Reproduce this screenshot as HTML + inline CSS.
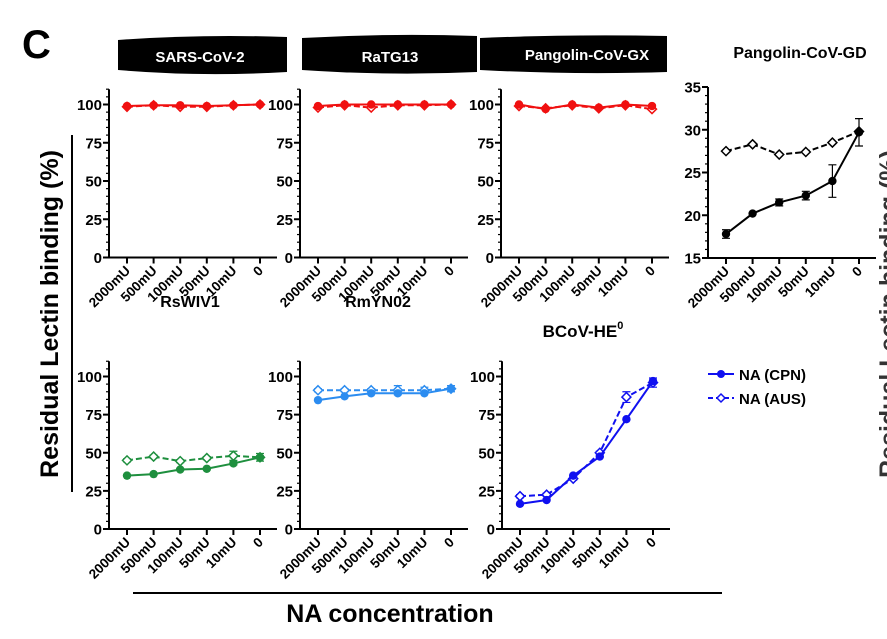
<!DOCTYPE html>
<html><head><meta charset="utf-8"><style>
body{margin:0;background:#fff}
svg{font-family:"Liberation Sans",sans-serif;font-weight:bold}
</style></head><body>
<svg id="c" width="887" height="634" viewBox="0 0 887 634">
<text x="22" y="58" font-size="40">C</text>
<path d="M118,40 Q200,34 287,37 L287,72 Q200,77 118,70 Z" fill="#000"/>
<text x="200" y="62" font-size="15" fill="#fff" text-anchor="middle">SARS-CoV-2</text>
<path d="M302,38 Q390,33 477,36 L477,72 Q390,76 302,70 Z" fill="#000"/>
<text x="390" y="62" font-size="15" fill="#fff" text-anchor="middle">RaTG13</text>
<path d="M480,38 Q575,34 667,36 L667,72 Q575,75 480,70 Z" fill="#000"/>
<text x="587" y="60" font-size="15" fill="#fff" text-anchor="middle">Pangolin-CoV-GX</text>
<text x="800" y="58" font-size="16" text-anchor="middle">Pangolin-CoV-GD</text>
<text x="190" y="307" font-size="16" text-anchor="middle">RsWIV1</text>
<text x="378" y="307" font-size="16" text-anchor="middle">RmYN02</text>
<text x="583" y="337" font-size="17" text-anchor="middle">BCoV-HE<tspan dy="-8" font-size="11">0</tspan></text>
<line x1="72" y1="135" x2="72" y2="492" stroke="#000" stroke-width="2"/>
<text transform="translate(58,314) rotate(-90)" font-size="25" text-anchor="middle">Residual Lectin binding (%)</text>
<text transform="translate(897,314) rotate(-90)" font-size="25" text-anchor="middle" fill="#333">Residual Lectin binding (%)</text>
<line x1="133" y1="593" x2="722" y2="593" stroke="#000" stroke-width="2"/>
<text x="390" y="622" font-size="25" text-anchor="middle">NA concentration</text>
<g>
<line x1="708" y1="374" x2="734" y2="374" stroke="#1010f0" stroke-width="2"/>
<circle cx="721" cy="374" r="4" fill="#1010f0"/>
<text x="739" y="380" font-size="15">NA (CPN)</text>
<line x1="708" y1="398" x2="734" y2="398" stroke="#1010f0" stroke-width="2" stroke-dasharray="5,3"/>
<path d="M721,394 L725,398 L721,402 L717,398 Z" fill="#fff" stroke="#1010f0" stroke-width="1.5"/>
<text x="739" y="404" font-size="15">NA (AUS)</text>
</g>
</svg>
<script>
const categories=["2000mU","500mU","100mU","50mU","10mU","0"];
const sarsCpn=[99,99.5,99.5,99,99.5,100];
const sarsAus=[98.5,99.5,98.5,98.5,99.5,100];
const ratCpn=[99,100,100,100,100,100];
const ratAus=[98,99.5,98,99.5,99.5,100];
const gxCpn=[100,97,100,98,100,99];
const gxAus=[99,97.5,99.5,97.5,99.5,97];
const gdCpn=[17.8,20.2,21.5,22.3,24,29.7];
const gdCpnErr=[0.5,0.2,0.4,0.5,1.9,1.6];
const gdAus=[27.5,28.3,27.1,27.4,28.5,29.8];
const rsCpn=[35,36,39,39.5,43,47];
const rsCpnErr=[0.5,0.5,0.5,0.5,1,2.5];
const rsAus=[45,47.5,44.5,46.5,48,47];
const rsAusErr=[1,1,1,1,3,1];
const rmCpn=[84.5,87,89,89,89,92];
const rmAus=[91,91,91,91,91,92];
const rmAusErr=[1,1,1,3,2,2];
const bcCpn=[16.5,19,35,47.5,72,97];
const bcAus=[21.5,22.5,33,50,86.5,96];
const bcAusErr=[1,1,1,1,3.5,3];
const ticks100=[0,25,50,75,100];
const ticksGd=[15,20,25,30,35];

const svg=document.getElementById('c');
const NS='http://www.w3.org/2000/svg';
function mk(tag,attrs,parent){const e=document.createElementNS(NS,tag);for(const k in attrs)e.setAttribute(k,attrs[k]);(parent||svg).appendChild(e);return e;}

function panel(name,ax,y0,ymin,ymax,yTop,ticks,minorStep,color,cpn,aus,cpnErr,ausErr,h){
  const g=mk('g',{});
  
  
  const yb=y0;
  const Y=v=>yb-(v-ymin)/(ymax-ymin)*h;
  const X=i=>ax+18+i*26.6;
  const xEnd=ax+168;
  const yAx=mk('line',{x1:ax,y1:Y(yTop),x2:ax,y2:yb+1,stroke:'#000','stroke-width':2},g);
  
  
  const xAx=mk('line',{x1:ax-1,y1:yb,x2:xEnd,y2:yb,stroke:'#000','stroke-width':2},g);
  
  
  for(let v=ymin;v<=yTop+1e-6;v+=minorStep){
    mk('line',{x1:ax-3,y1:Y(v),x2:ax,y2:Y(v),stroke:'#000','stroke-width':1.2},g);
  }
  ticks.forEach(t=>{
    mk('line',{x1:ax-6,y1:Y(t),x2:ax,y2:Y(t),stroke:'#000','stroke-width':2},g);
    const tx=mk('text',{x:ax-7,y:Y(t)+5.5,'font-size':15,'text-anchor':'end'},g);
    tx.textContent=t;
    
    
  });
  categories.forEach((c,i)=>{
    mk('line',{x1:X(i),y1:yb,x2:X(i),y2:yb+6,stroke:'#000','stroke-width':2},g);
    const tx=mk('text',{x:0,y:0,'font-size':13.5,'text-anchor':'end',transform:`translate(${X(i)+4},${yb+14}) rotate(-45)`},g);
    tx.textContent=c;
    
    
  });
  function series(vals,err,dashed,label){
    const sg=mk('g',{},g);
    
    
    mk('polyline',{points:vals.map((v,i)=>X(i)+','+Y(v)).join(' '),fill:'none',stroke:color,'stroke-width':2,'stroke-dasharray':dashed?'6,3':'none'},sg);
    vals.forEach((v,i)=>{
      if(err&&err[i]>0.3){
        const e1=Y(v+err[i]),e2=Y(v-err[i]);
        mk('path',{d:`M${X(i)},${e1}V${e2}M${X(i)-4},${e1}H${X(i)+4}M${X(i)-4},${e2}H${X(i)+4}`,stroke:color,'stroke-width':1.2,fill:'none'},sg);
      }
      let m;
      if(dashed){
        m=mk('path',{d:`M${X(i)},${Y(v)-4.5}L${X(i)+4.5},${Y(v)}L${X(i)},${Y(v)+4.5}L${X(i)-4.5},${Y(v)}Z`,fill:'#fff',stroke:color,'stroke-width':1.5},sg);
      }else{
        m=mk('circle',{cx:X(i),cy:Y(v),r:4.2,fill:color},sg);
      }
      
      
    });
  }
  series(aus,ausErr,true,'aus');
  series(cpn,cpnErr,false,'cpn');
}
panel('sars',109,257.5,0,100,110,ticks100,5,'#f01010',sarsCpn,sarsAus,null,null,153);
panel('ratg13',300,257.5,0,100,110,ticks100,5,'#f01010',ratCpn,ratAus,null,null,153);
panel('gx',501,257.5,0,100,110,ticks100,5,'#f01010',gxCpn,gxAus,null,null,153);
panel('gd',708,258,15,35,35,ticksGd,1,'#000',gdCpn,gdAus,gdCpnErr,null,171);
panel('rswiv1',109,529,0,100,110,ticks100,5,'#1e8f3e',rsCpn,rsAus,rsCpnErr,rsAusErr,152.5);
panel('rmyn02',300,529,0,100,110,ticks100,5,'#2b8cf0',rmCpn,rmAus,null,rmAusErr,152.5);
panel('bcov',502,529,0,100,110,ticks100,5,'#1010f0',bcCpn,bcAus,null,bcAusErr,152.5);
</script>
</body></html>
